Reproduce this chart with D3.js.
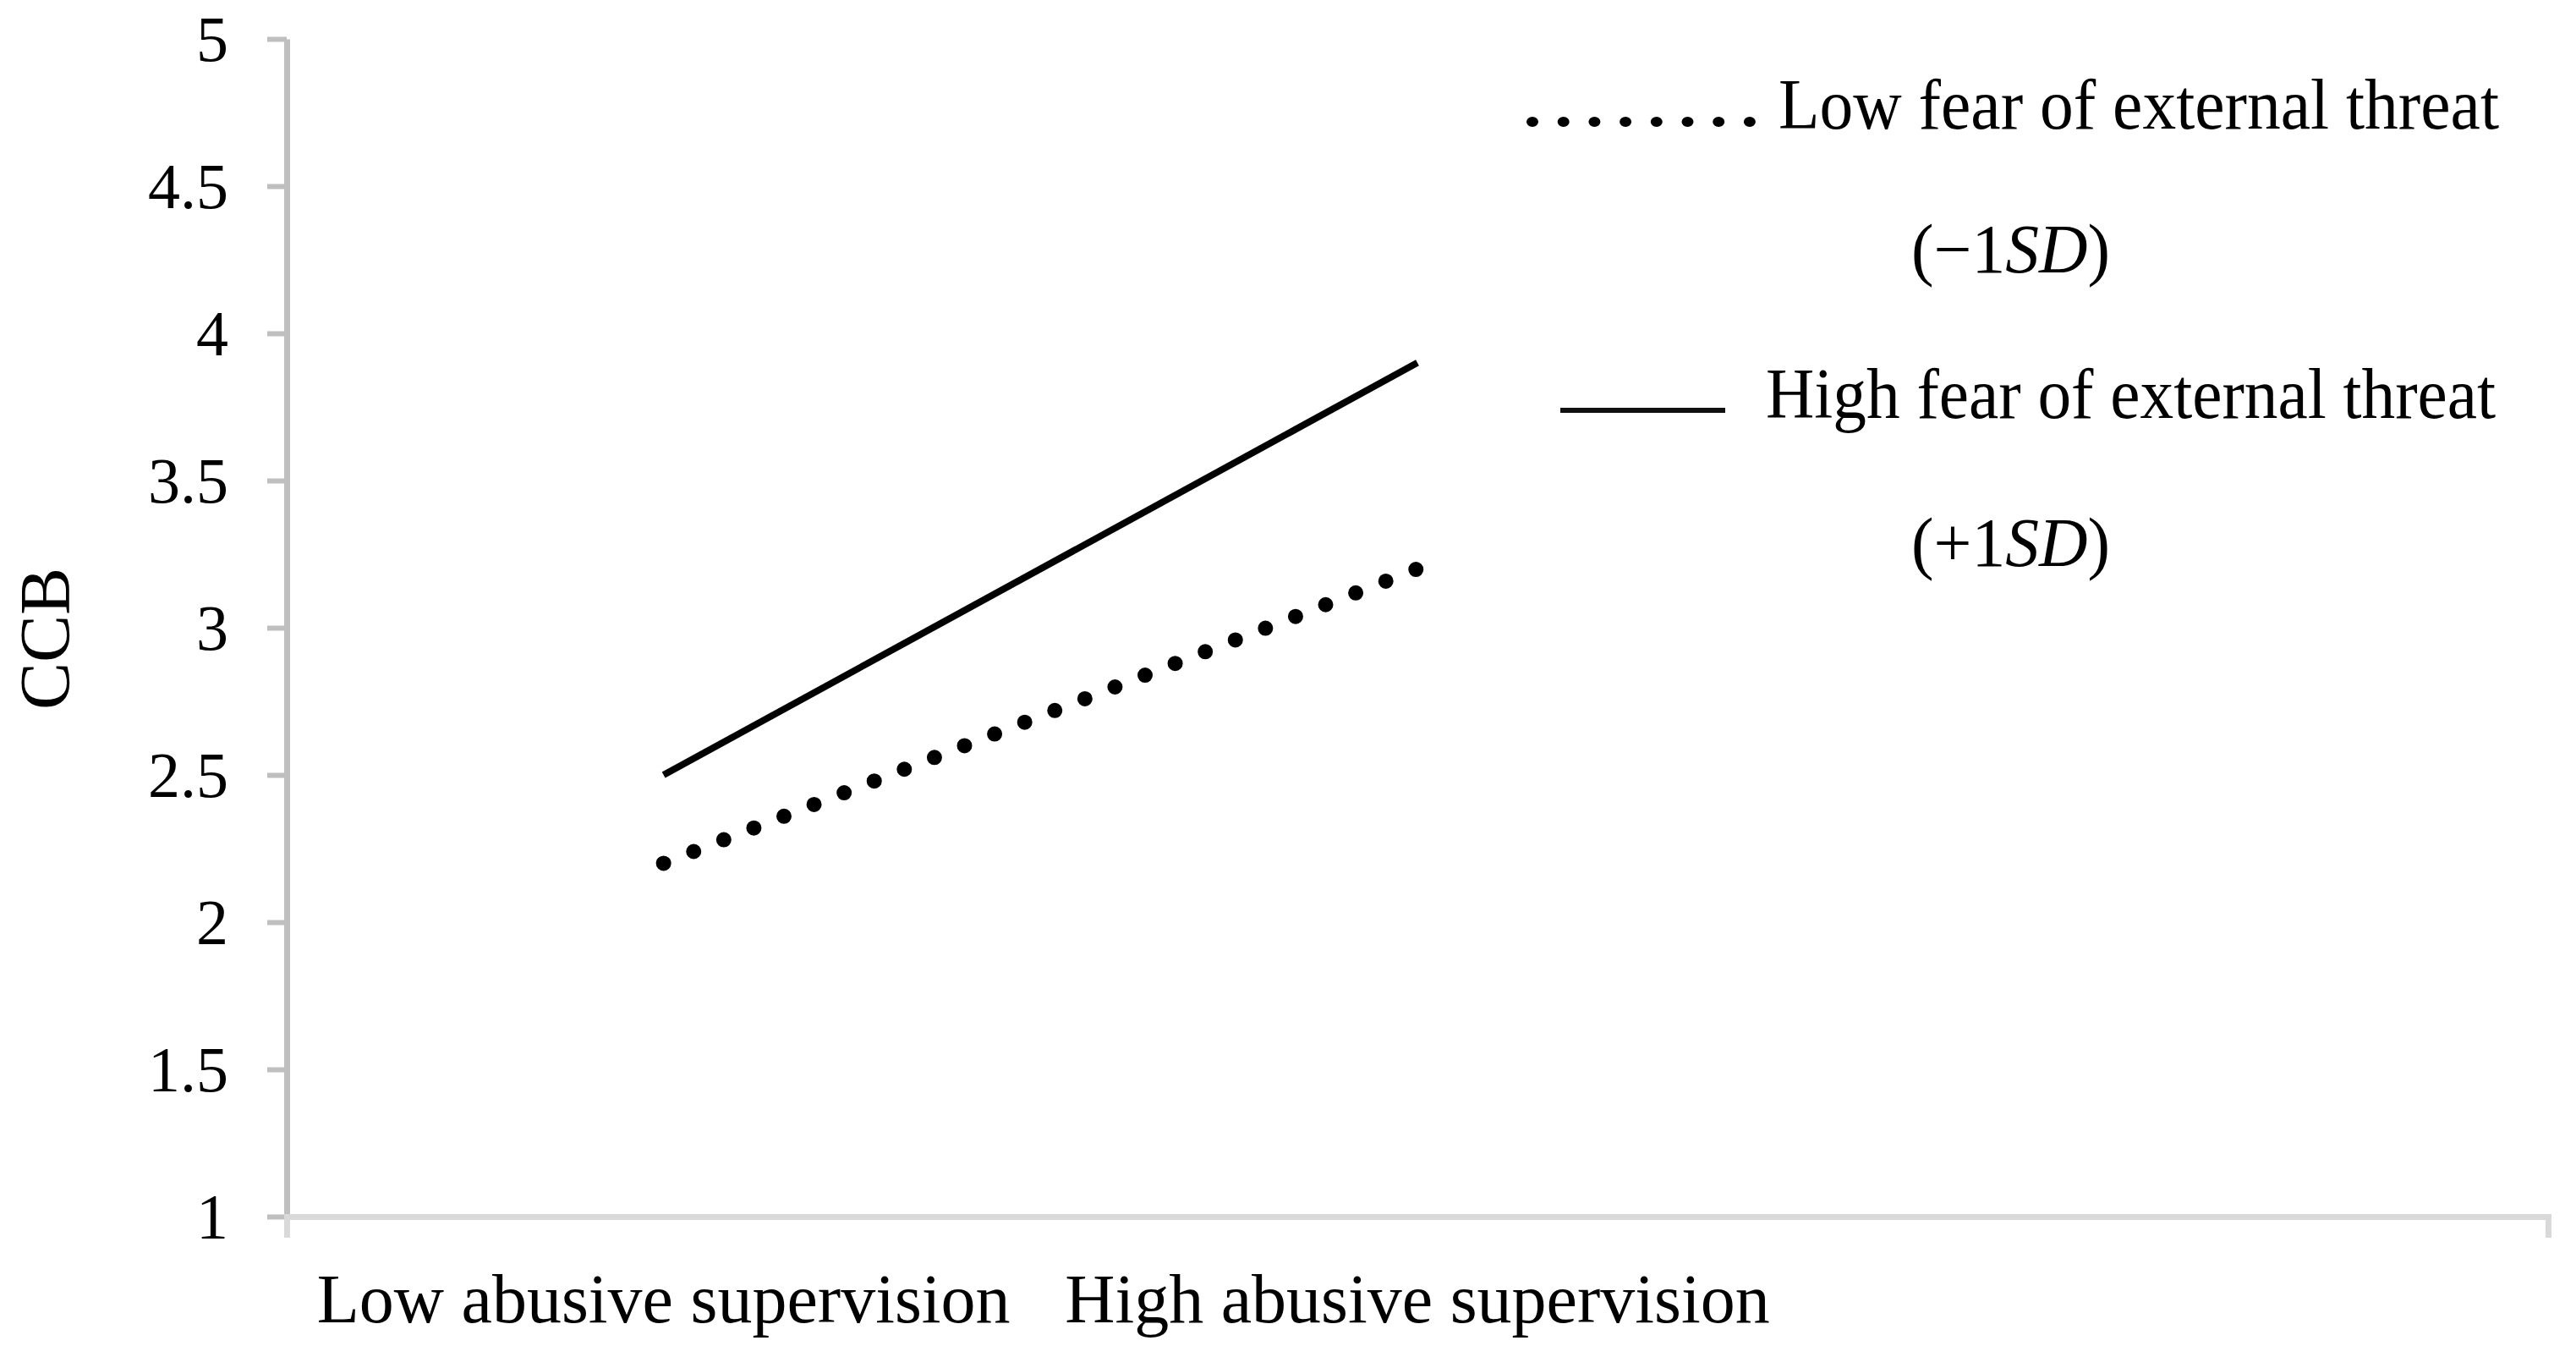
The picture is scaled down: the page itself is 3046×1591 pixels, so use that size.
<!DOCTYPE html>
<html>
<head>
<meta charset="utf-8">
<script src="https://cdn.jsdelivr.net/npm/d3@7"></script>
<style>
  html, body { margin: 0; padding: 0; background: #fff; }
  svg { display: block; }
  text { font-family: "Liberation Serif", "Times New Roman", serif; fill: #000; }
</style>
</head>
<body>
<script>
// ---- data ----
const categories = ["Low abusive supervision", "High abusive supervision", ""];
const lowFear = [2.2, 3.2];   // Low fear of external threat (-1SD), dotted
const highFear = [2.5, 3.9];  // High fear of external threat (+1SD), solid
const yTicks = [1, 1.5, 2, 2.5, 3, 3.5, 4, 4.5, 5];
const yLabel = "CCB";
const legendLabels = ["Low fear of external threat", "High fear of external threat"];
const legendSub = [["(\u22121", "SD", ")"], ["(+1", "SD", ")"]];

const W = 3046, H = 1591;
const svg = d3.select("body").append("svg").attr("width", W).attr("height", H);

const x = d3.scaleBand().domain(categories).range([339, 3013]).padding(0);
const y = d3.scaleLinear().domain([1, 5]).range([1438, 46]);
const cx = c => x(c) + x.bandwidth() / 2;

// y axis
const yAxis = svg.append("g").attr("transform", "translate(339,0)")
  .call(d3.axisLeft(y).tickValues(yTicks).tickSizeInner(23).tickSizeOuter(0)
        .tickPadding(46).tickFormat(d => String(d)));
yAxis.select(".domain").attr("stroke", "#bfbfbf").attr("stroke-width", 7);
yAxis.selectAll(".tick line").attr("stroke", "#bfbfbf").attr("stroke-width", 6);
yAxis.selectAll(".tick text").attr("font-size", 76).attr("font-family", "Liberation Serif").attr("dy", "0.34em");

// x axis
const xAxis = svg.append("g").attr("transform", "translate(0,1438)")
  .call(d3.axisBottom(x).tickSizeInner(0).tickSizeOuter(25).tickPadding(0));
xAxis.select(".domain").attr("stroke", "#d9d9d9").attr("stroke-width", 7).attr("fill", "none");
xAxis.selectAll(".tick line").remove();
xAxis.selectAll(".tick text").attr("font-size", 82).attr("font-family", "Liberation Serif")
  .attr("y", 125).attr("dy", 0);

// y label
svg.append("text").attr("transform", "translate(82,755) rotate(-90)")
  .attr("text-anchor", "middle").attr("font-size", 84).text(yLabel);

// lines
const line = d3.line().x((d, i) => cx(categories[i])).y(d => y(d));
svg.append("path").datum(highFear).attr("d", line)
  .attr("fill", "none").attr("stroke", "#000").attr("stroke-width", 8);
svg.append("path").datum(lowFear).attr("d", line)
  .attr("fill", "none").attr("stroke", "#000").attr("stroke-width", 18)
  .attr("stroke-linecap", "round").attr("stroke-dasharray", "0 38.2");

// legend
const lg = svg.append("g");
d3.range(8).forEach(i => {
  lg.append("ellipse").attr("cx", 1812 + i * 36.7).attr("cy", 144)
    .attr("rx", 7).attr("ry", 6).attr("fill", "#000");
});
lg.append("text").attr("x", 2103).attr("y", 152).attr("font-size", 84)
  .attr("textLength", 852).attr("lengthAdjust", "spacingAndGlyphs").text(legendLabels[0]);
lg.append("line").attr("x1", 1845).attr("x2", 2040).attr("y1", 485).attr("y2", 485)
  .attr("stroke", "#111").attr("stroke-width", 6);
lg.append("text").attr("x", 2088).attr("y", 494).attr("font-size", 84)
  .attr("textLength", 863).attr("lengthAdjust", "spacingAndGlyphs").text(legendLabels[1]);

[[2260, 322], [2260, 669]].forEach((p, k) => {
  const t = lg.append("text").attr("x", p[0]).attr("y", p[1]).attr("font-size", 82)
    .attr("textLength", 235).attr("lengthAdjust", "spacingAndGlyphs");
  t.append("tspan").text(legendSub[k][0]);
  t.append("tspan").attr("font-style", "italic").text(legendSub[k][1]);
  t.append("tspan").text(legendSub[k][2]);
});
</script>
</body>
</html>
